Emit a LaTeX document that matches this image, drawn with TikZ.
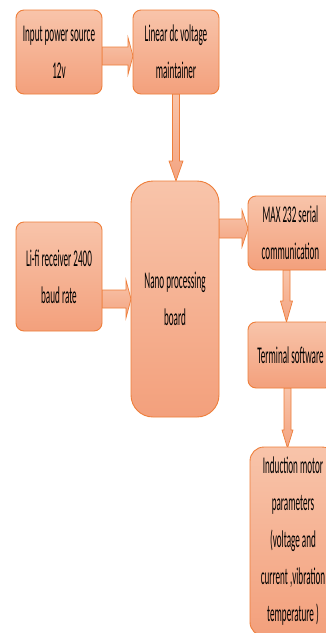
\documentclass[tikz,border=0pt]{standalone}
\usepackage{fontspec}
\setmainfont{Carlito}[FakeStretch=0.38]
\usetikzlibrary{calc}
\definecolor{boxtop}{HTML}{F8C4AA}
\definecolor{boxbot}{HTML}{F3A07C}
\definecolor{edge}{HTML}{EE7E3A}
\tikzset{
  box/.style={draw=edge, line width=0.9pt, top color=boxtop, bottom color=boxbot,
    rounded corners=8pt, align=center, inner sep=0pt, text=black,
    font=\fontsize{24}{37}\selectfont},
  blockarrow/.style={draw=edge, line width=0.7pt, top color=boxtop, bottom color=boxbot!90!boxtop, line join=miter}
}
% horizontal block arrow: x1, x2(tip), yc, shaft half, head half, head length
\newcommand\harrow[6]{%
  \path[blockarrow] (#1,#3-#4) -- (#2-#6,#3-#4) -- (#2-#6,#3-#5) -- (#2,#3)
    -- (#2-#6,#3+#5) -- (#2-#6,#3+#4) -- (#1,#3+#4) -- cycle;}
% vertical block arrow: xc, y1, y2(tip), shaft half, head half, head length
\newcommand\varrow[6]{%
  \path[blockarrow] (#1-#4,#2) -- (#1-#4,#3-#6) -- (#1-#5,#3-#6) -- (#1,#3)
    -- (#1+#5,#3-#6) -- (#1+#4,#3-#6) -- (#1+#4,#2) -- cycle;}
\begin{document}
\begin{tikzpicture}[x=1pt,y=-1pt]
\useasboundingbox (0,0) rectangle (326,633);
\clip (0,0) rectangle (326,633);
\fill[white] (0,0) rectangle (326,633);
% arrows first
\harrow{102}{133}{56}{9}{18.5}{5}
\varrow{176}{94}{181}{3.5}{7}{20}
\harrow{102}{131}{299}{9}{19}{5}
\harrow{219}{248}{228.5}{9.5}{18.5}{6}
\varrow{286.5}{270}{322}{3.5}{6}{21}
\varrow{287.5}{388}{448}{3.5}{5.5}{18}
% boxes
\node[box, minimum width=86pt, minimum height=84pt] (src) at (59,52) {Input power source\\12v};
\node[box, minimum width=86pt, minimum height=84pt] (lin) at (176,52) {Linear dc voltage\\maintainer};
\node[box, rounded corners=22pt, minimum width=88pt, minimum height=236pt] (nano) at (175,299) {Nano processing\\board};
\node[box, minimum width=86pt, minimum height=109pt] (lifi) at (59,276.5) {Li-fi receiver 2400\\baud rate};
\node[box, minimum width=85pt, minimum height=74pt] (max) at (290.5,233) {MAX 232 serial\\communication};
\node[box, minimum width=85pt, minimum height=66pt] (term) at (290.5,355) {Terminal software};
\node[box, rounded corners=14pt, minimum width=86pt, minimum height=189pt] (ind) at (293,541.5) {Induction motor\\parameters\\(voltage and\\current ,vibration\\temperature )};
\end{tikzpicture}
\end{document}
